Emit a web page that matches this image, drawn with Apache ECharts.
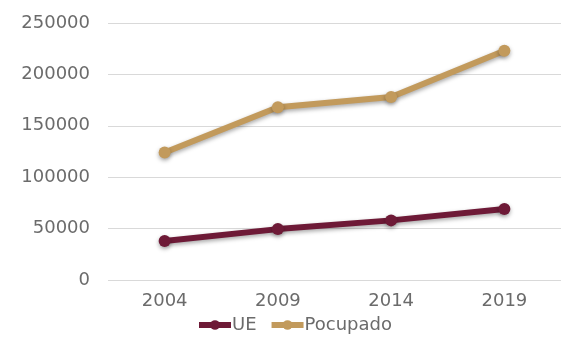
<!DOCTYPE html>
<html><head><meta charset="utf-8">
<script src="https://cdn.jsdelivr.net/npm/echarts@6/dist/echarts.min.js"></script>
<style>html,body{margin:0;padding:0;background:#fff}#c{width:561px;height:341px}</style>
</head><body><div id="c"></div>
<script>
const years = ['2004','2009','2014','2019'];
const ue = [38000, 49500, 58000, 69000];
const pocupado = [124000, 168000, 178000, 223000];
const yTicks = [0, 50000, 100000, 150000, 200000, 250000];

const chart = echarts.init(document.getElementById('c'));
const font = '"DejaVu Sans", sans-serif';
const txt = '#6b6b6b';
function s(name, data, color){
  return {name, type:'line', data, symbol:'circle', symbolSize:12,
    lineStyle:{width:6, color, shadowColor:'rgba(0,0,0,0.35)', shadowBlur:4, shadowOffsetY:2},
    itemStyle:{color, shadowColor:'rgba(0,0,0,0.35)', shadowBlur:4, shadowOffsetY:2}};
}
chart.setOption({
  animation:false,
  grid:{left:108, right:0, top:23, bottom:61},
  legend:{bottom:2, left:191, itemWidth:32, itemHeight:12, itemGap:12,
    lineStyle:{width:6}, itemStyle:{},
    textStyle:{fontFamily:font, fontSize:18, color:txt, padding:[0,0,0,-4]},
    data:['UE','Pocupado']},
  xAxis:{type:'category', data:years, axisLine:{show:false}, axisTick:{show:false},
    axisLabel:{fontFamily:font, fontSize:18, color:txt, margin:12}},
  yAxis:{type:'value', min:yTicks[0], max:yTicks[yTicks.length-1], interval:50000,
    axisLabel:{fontFamily:font, fontSize:18, color:txt, margin:18, formatter:v=>String(v)},
    splitLine:{lineStyle:{color:'#d9d9d9'}}},
  series:[s('UE', ue, '#6e1a37'), s('Pocupado', pocupado, '#c29a5c')]
});
</script></body></html>
